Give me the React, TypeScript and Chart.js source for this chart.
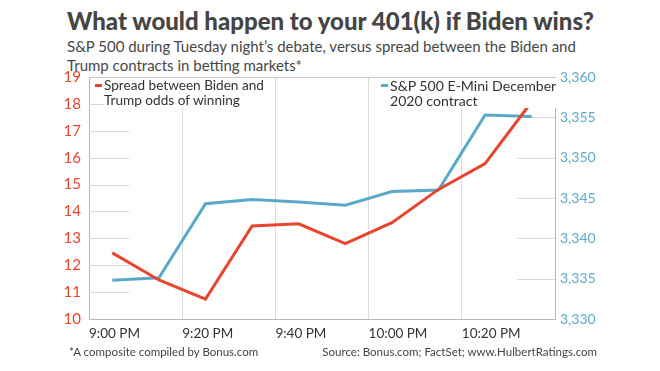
import React, { useEffect, useRef } from "react";
import { Chart, registerables } from "chart.js";

Chart.register(...registerables);

const title = "What would happen to your 401(k) if Biden wins?";
const subtitleLines = [
  "S&P 500 during Tuesday night\u2019s debate, versus spread between the Biden and",
  "Trump contracts in betting markets*",
];
const footLeft = "*A composite compiled by Bonus.com";
const footRight = "Source: Bonus.com; FactSet; www.HulbertRatings.com";

// minutes after 9:00 PM
const minutes = [5, 15, 25, 35, 45, 55, 65, 75, 85, 95];
const spread = [12.46, 11.45, 10.74, 13.46, 13.54, 12.8, 13.58, 14.82, 15.78, 18.08];
const sp500 = [3334.8, 3335.1, 3344.3, 3344.8, 3344.5, 3344.1, 3345.8, 3346.0, 3355.3, 3355.1];

const spreadLabel = ["Spread between Biden and", "Trump odds of winning"];
const spLabel = ["S&P 500 E-Mini December", "2020 contract"];

const RED = "#e8452f";
const BLUE = "#5aa9c9";
const FONT = "Lato, 'Noto Sans', sans-serif";

function fmtTime(m: number) {
  const total = 9 * 60 + m;
  const h = Math.floor(total / 60);
  const mm = total % 60;
  return `${h}:${mm.toString().padStart(2, "0")} PM`;
}

const stubPlugin = {
  id: "stubs",
  beforeDatasetsDraw(chart: any) {
    const { ctx, chartArea } = chart;
    const y = chart.scales.y;
    const y1 = chart.scales.y1;
    ctx.save();
    ctx.strokeStyle = "#d9d9d9";
    ctx.lineWidth = 1;
    y.ticks.forEach((t: any) => {
      if (t.value <= y.min || t.value >= y.max) return;
      const py = Math.round(y.getPixelForValue(t.value)) + 0.5;
      ctx.beginPath();
      ctx.moveTo(chartArea.left, py);
      ctx.lineTo(chartArea.left + 40, py);
      ctx.stroke();
    });
    y1.ticks.forEach((t: any) => {
      if (t.value <= y1.min || t.value >= y1.max) return;
      const py = Math.round(y1.getPixelForValue(t.value)) + 0.5;
      ctx.beginPath();
      ctx.moveTo(chartArea.right - 38, py);
      ctx.lineTo(chartArea.right, py);
      ctx.stroke();
    });
    // top border
    ctx.strokeStyle = "#c8c8c8";
    ctx.beginPath();
    ctx.moveTo(chartArea.left, Math.round(chartArea.top) + 0.5);
    ctx.lineTo(chartArea.right, Math.round(chartArea.top) + 0.5);
    ctx.stroke();
    ctx.restore();
  },
};

function ChartCanvas() {
  const ref = useRef<HTMLCanvasElement>(null);
  useEffect(() => {
    const canvas = ref.current!;
    const chart = new Chart(canvas, {
      type: "line",
      data: {
        datasets: [
          {
            label: spreadLabel.join(" "),
            data: minutes.map((m, i) => ({ x: m, y: spread[i] })),
            borderColor: RED,
            borderWidth: 3,
            pointRadius: 0,
            tension: 0,
            yAxisID: "y",
          },
          {
            label: spLabel.join(" "),
            data: minutes.map((m, i) => ({ x: m, y: sp500[i] })),
            borderColor: BLUE,
            borderWidth: 3,
            pointRadius: 0,
            tension: 0,
            yAxisID: "y1",
          },
        ],
      },
      options: {
        responsive: false,
        animation: false,
        layout: { padding: { top: 16, bottom: 0, left: 0, right: 0 } },
        plugins: { legend: { display: false }, tooltip: { enabled: false } },
        scales: {
          x: {
            type: "linear",
            min: 0,
            max: 100,
            afterFit(s: any) {
              s.height = 31;
            },
            afterBuildTicks(s: any) {
              s.ticks = [0, 20, 40, 60, 80, 100].map((v) => ({ value: v }));
            },
            ticks: {
              align: "start",
              color: "#333",
              font: { family: FONT, size: 13.5 },
              padding: 7,
              maxRotation: 0,
              autoSkip: false,
              callback: (v: any) => (v >= 100 ? "" : fmtTime(Number(v))),
            },
            grid: {
              drawTicks: false,
              color: (c: any) =>
                c.tick && c.tick.value > 0 && c.tick.value < 100 ? "#dcdcdc" : "rgba(0,0,0,0)",
            },
            border: { display: true, color: "#b8b8b8" },
          },
          y: {
            position: "left",
            min: 10,
            max: 19,
            afterFit(s: any) {
              s.width = 89;
            },
            ticks: {
              stepSize: 1,
              color: RED,
              font: { family: FONT, size: 15 },
              padding: 8,
            },
            grid: { drawOnChartArea: false, drawTicks: false },
            border: { display: true, color: "#b8b8b8" },
          },
          y1: {
            position: "right",
            min: 3330,
            max: 3360,
            afterFit(s: any) {
              s.width = 105;
            },
            ticks: {
              stepSize: 5,
              color: BLUE,
              font: { family: FONT, size: 14 },
              padding: 5,
              callback: (v: any) => Number(v).toLocaleString("en-US"),
            },
            grid: { drawOnChartArea: false, drawTicks: false },
            border: { display: true, color: "#b8b8b8" },
          },
        },
      },
      plugins: [stubPlugin],
    } as any);
    return () => chart.destroy();
  }, []);
  return (
    <canvas
      ref={ref}
      width={660}
      height={290}
      style={{ position: "absolute", left: 0, top: 60, width: 660, height: 290 }}
    />
  );
}

function LegendItem({
  color,
  lines,
  left,
  top,
  size,
}: {
  color: string;
  lines: string[];
  left: number;
  top: number;
  size: number;
}) {
  return (
    <div
      style={{
        position: "absolute",
        left,
        top,
        fontFamily: FONT,
        fontSize: size,
        lineHeight: "15px",
        color: "#333",
        background: "#fff",
        paddingRight: 2,
      }}
    >
      <span
        style={{
          position: "absolute",
          left: -9,
          top: 6,
          width: 7,
          height: 3,
          background: color,
        }}
      />
      {lines.map((l, i) => (
        <div key={i} style={{ whiteSpace: "nowrap" }}>
          {l}
        </div>
      ))}
    </div>
  );
}

export default function App() {
  return (
    <div
      style={{
        position: "absolute",
        left: 0,
        top: 0,
        width: 660,
        height: 371,
        background: "#fff",
        overflow: "hidden",
        fontFamily: FONT,
      }}
    >
      <div
        style={{
          position: "absolute",
          left: 67,
          top: 6,
          fontSize: 24,
          fontWeight: 900,
          color: "#454545",
          whiteSpace: "nowrap",
        }}
      >
        {title}
      </div>
      <div
        style={{
          position: "absolute",
          left: 67,
          top: 37,
          fontSize: 15,
          lineHeight: "19px",
          color: "#474747",
        }}
      >
        {subtitleLines.map((l, i) => (
          <div key={i} style={{ whiteSpace: "nowrap" }}>
            {l}
          </div>
        ))}
      </div>
      <ChartCanvas />
      <LegendItem color={RED} lines={spreadLabel} left={104} top={78} size={13.6} />
      <LegendItem color={BLUE} lines={spLabel} left={390} top={78} size={14.1} />
      <div
        style={{
          position: "absolute",
          left: 69,
          top: 345,
          fontSize: 11.5,
          color: "#444",
          whiteSpace: "nowrap",
        }}
      >
        {footLeft}
      </div>
      <div
        style={{
          position: "absolute",
          right: 63,
          top: 345,
          fontSize: 11.5,
          color: "#444",
          whiteSpace: "nowrap",
        }}
      >
        {footRight}
      </div>
    </div>
  );
}
